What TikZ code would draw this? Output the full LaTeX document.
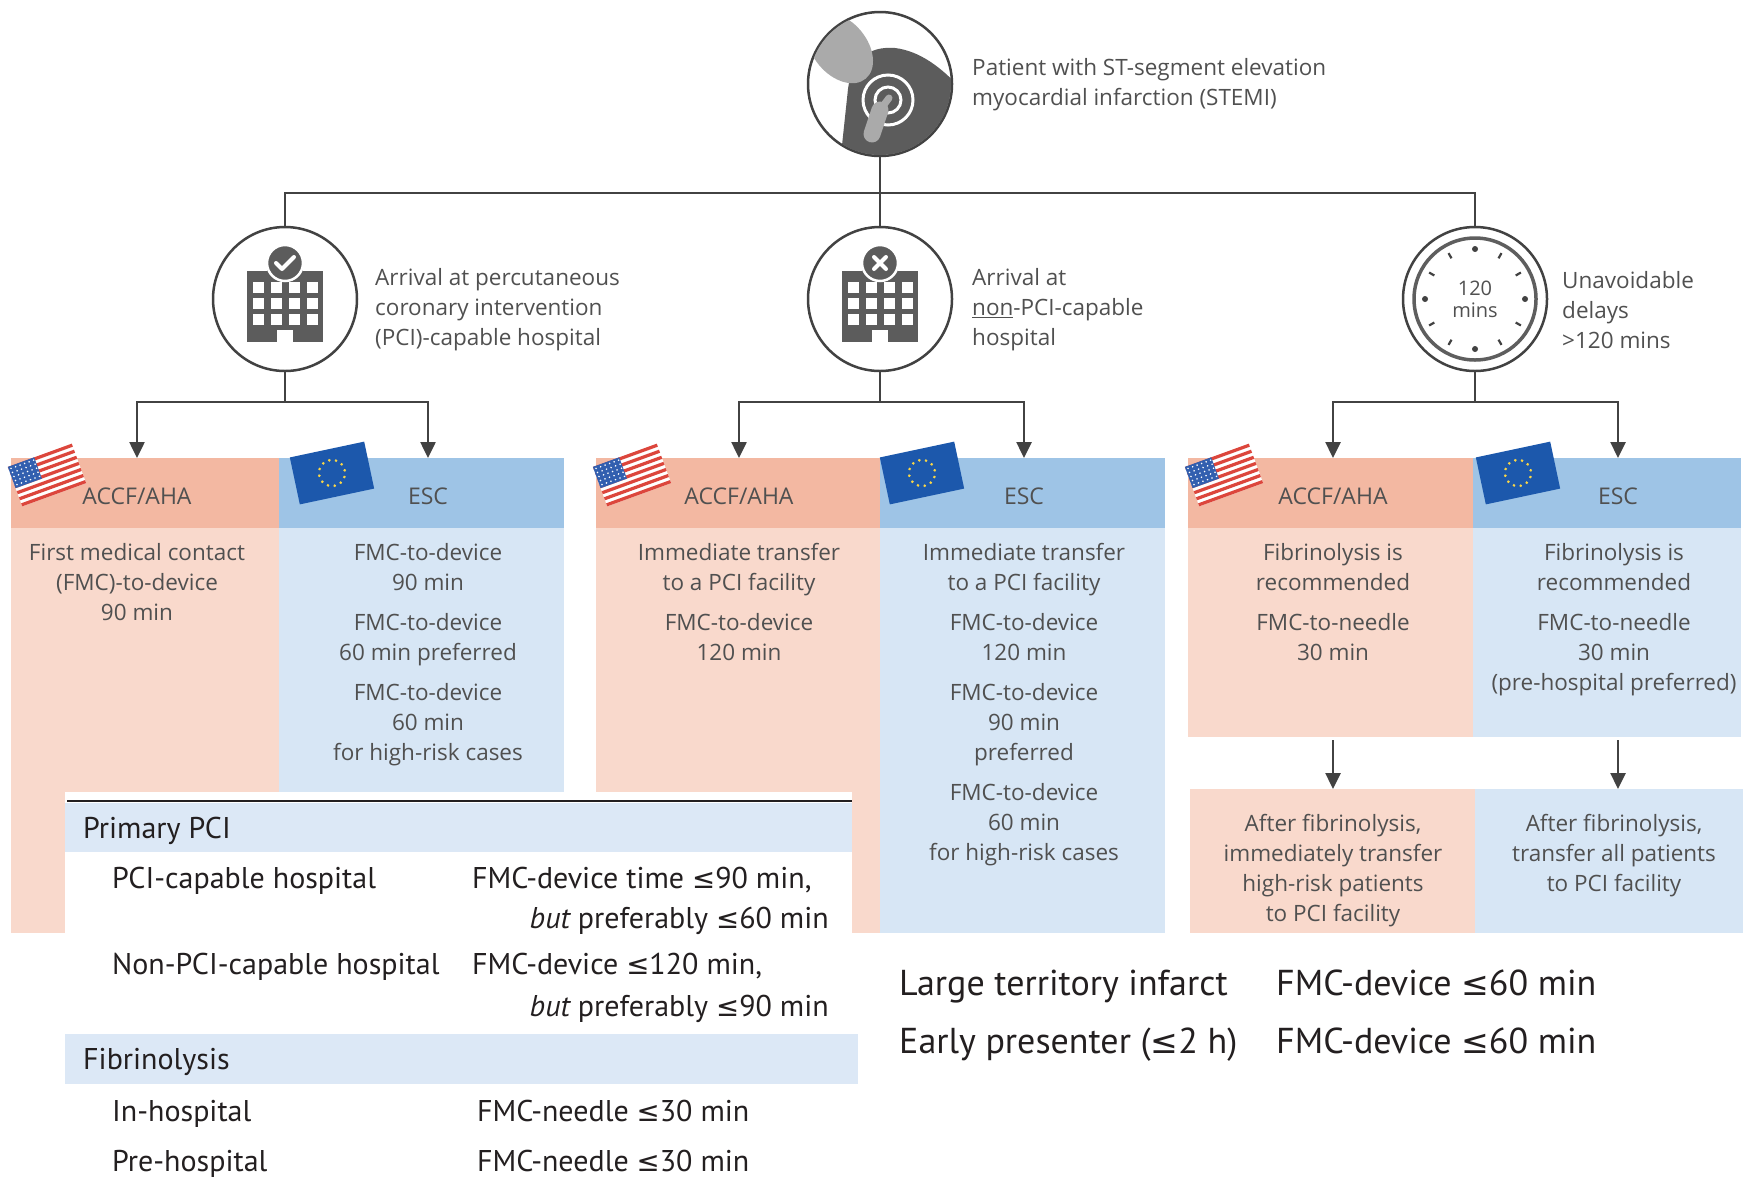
\documentclass[tikz,border=0pt]{standalone}
\usepackage{fontspec}
\setmainfont{Open Sans}
\newfontfamily\tabfont{PT Sans}
\newfontfamily\symfont[Scale=0.92]{DejaVu Sans}
\newcommand\lesym{{\symfont ≤}}
\usetikzlibrary{arrows.meta}

\definecolor{accHead}{RGB}{243,184,162}
\definecolor{accBody}{RGB}{249,217,204}
\definecolor{escHead}{RGB}{158,196,230}
\definecolor{escBody}{RGB}{215,230,245}
\definecolor{bandBlue}{RGB}{220,232,246}
\definecolor{lineGrey}{RGB}{66,66,66}
\definecolor{iconGrey}{RGB}{92,92,92}
\definecolor{iconLight}{RGB}{170,170,170}
\definecolor{txtGrey}{RGB}{80,80,80}
\definecolor{tabBlack}{RGB}{35,31,32}
\definecolor{flagRed}{RGB}{220,70,60}
\definecolor{flagBlue}{RGB}{50,95,175}
\definecolor{euBlue}{RGB}{28,88,172}
\definecolor{euGold}{RGB}{250,214,70}

\tikzset{
  ring/.style={circle, draw=lineGrey, line width=2.5pt, fill=white, minimum size=144pt, inner sep=0pt},
  captext/.style={anchor=west, align=left, inner sep=0pt, text=txtGrey, font=\fontsize{22.5}{30}\selectfont},
  hdrbox/.style={inner sep=0pt, anchor=north west, minimum height=70pt},
  bodybox/.style={inner sep=0pt, anchor=north west},
  hdrtext/.style={inner sep=0pt, text=txtGrey, font=\fontsize{23}{26}\selectfont},
  boxtext/.style={anchor=north, align=center, inner sep=0pt, text=txtGrey, font=\fontsize{22.5}{30}\selectfont},
  clocktext/.style={align=center, inner sep=0pt, text=txtGrey, font=\fontsize{20}{22}\selectfont},
  link/.style={draw=lineGrey, line width=2.5pt},
  arr/.style={link, -{Triangle[width=15pt,length=16pt]}},
  tabtext/.style={inner sep=0pt, text=tabBlack, font=\tabfont\fontsize{30}{34}\selectfont},
  bigtext/.style={inner sep=0pt, text=tabBlack, font=\tabfont\fontsize{36}{40}\selectfont},
  % small icons
  pics/usflag/.style={code={
    \fill[white] (-34,-21) rectangle (34,21);
    \foreach \k in {0,...,6}
      \fill[flagRed] (-34,{-21+2*\k*42/13}) rectangle (34,{-21+(2*\k+1)*42/13});
    \fill[flagBlue] (-34,-21) rectangle (-6,{-21+7*42/13});
    \foreach \i in {0,...,5}
      \foreach \j in {0,...,4}
        \fill[white] ({-31.5+\i*4.8},{-18.5+\j*4.3}) circle (0.9);
  }},
  pics/euflag/.style={code={
    \fill[euBlue] (-38,-24) rectangle (38,24);
    \foreach \a in {0,30,...,330}
      \fill[euGold] (\a:13) circle (1.5);
  }},
  pics/patient/.style={code={
    \begin{scope}
      \clip (0,0) circle (71);
      \fill[iconGrey] (-40,80) -- (-32,5) .. controls (-28,-26) and (-10,-38) .. (15,-36)
        .. controls (40,-33) and (62,-16) .. (80,4) -- (80,80) -- cycle;
      \fill[iconLight, rotate around={-50:(-40,-36)}] (-40,-36) ellipse (40 and 27);
      \draw[white, line width=3pt] (8,16) circle (25) (8,16) circle (13);
      \draw[iconLight, line width=17pt, line cap=round] (-8,50) -- (0,26);
      \draw[iconLight, line width=7pt, line cap=round] (0,26) -- (9,14);
    \end{scope}
  }},
  pics/hospital/.style={code={
    \fill[iconGrey] (-38,-28) rectangle (38,43);
    \fill[iconGrey] (-18,-38) rectangle (18,-28);
    \foreach \cx in {-27,-9,9,27}
      \foreach \cy in {-12,4,20}
        \fill[white] ({\cx-5.5},{\cy-5.5}) rectangle ({\cx+5.5},{\cy+5.5});
    \fill[white] (-8,31) rectangle (8,44);
    \fill[iconGrey, draw=white, line width=2.5pt] (0,-36) circle (18);
    \ifnum#1=1
      \draw[white, line width=4pt, line cap=round, line join=round] (-9,-36) -- (-3,-30) -- (9,-42);
    \else
      \draw[white, line width=4pt, line cap=round] (-6,-42) -- (6,-30) (-6,-30) -- (6,-42);
    \fi
  }},
  pics/clockface/.style={code={
    \draw[lineGrey!85, line width=3.5pt] (0,0) circle (61);
    \foreach \a in {0,90,180,270}
      \fill[lineGrey] (\a:50) circle (3);
    \foreach \a in {30,60,120,150,210,240,300,330}
      \draw[lineGrey, line width=2.2pt] (\a:47) -- (\a:53);
  }},
}

\begin{document}
\begin{tikzpicture}[x=1pt, y=-1pt]
\useasboundingbox (0,0) rectangle (1752,1179);

% decision tree heads
\node[ring] (stemi) at (880,84) {};
\pic at (stemi) {patient};
\node[captext] (stemitxt) at (972,85) {Patient with ST-segment elevation\\myocardial infarction (STEMI)};

\node[ring] (pci) at (285,299) {};
\pic at (pci) {hospital=1};
\node[captext] (pcitxt) at (375,310) {Arrival at percutaneous\\coronary intervention\\(PCI)-capable hospital};

\node[ring] (nonpci) at (880,299) {};
\pic at (nonpci) {hospital=0};
\node[captext] (nonpcitxt) at (972,310) {Arrival at\\\underline{non}-PCI-capable\\hospital};

\node[ring] (delay) at (1475,299) {};
\pic at (delay) {clockface};
\node[clocktext] (clocklbl) at (1475,299) {120\\mins};
\node[captext] (delaytxt) at (1562,310) {Unavoidable\\delays\\>120 mins};

\coordinate (bus) at (880,193);
\draw[link] (stemi) -- (bus);
\draw[link] (pci.north) |- (bus) -| (delay.north);
\draw[link] (bus) -- (nonpci);

% colour columns
\node[hdrbox, fill=accHead, minimum width=268pt] (h1a) at (11,458) {};
\node[hdrbox, fill=escHead, minimum width=285pt] (h1b) at (279,458) {};
\node[hdrbox, fill=accHead, minimum width=284pt] (h2a) at (596,458) {};
\node[hdrbox, fill=escHead, minimum width=285pt] (h2b) at (880,458) {};
\node[hdrbox, fill=accHead, minimum width=285pt] (h3a) at (1188,458) {};
\node[hdrbox, fill=escHead, minimum width=268pt] (h3b) at (1473,458) {};

\node[bodybox, fill=accBody, minimum width=268pt, minimum height=405pt] (b1a) at (11,528) {};
\node[bodybox, fill=escBody, minimum width=285pt, minimum height=405pt] (b1b) at (279,528) {};
\node[bodybox, fill=accBody, minimum width=284pt, minimum height=405pt] (b2a) at (596,528) {};
\node[bodybox, fill=escBody, minimum width=285pt, minimum height=405pt] (b2b) at (880,528) {};
\node[bodybox, fill=accBody, minimum width=285pt, minimum height=209pt] (b3a) at (1188,528) {};
\node[bodybox, fill=escBody, minimum width=268pt, minimum height=209pt] (b3b) at (1473,528) {};
\node[bodybox, fill=accBody, minimum width=285pt, minimum height=144pt] (l3a) at (1190,789) {};
\node[bodybox, fill=escBody, minimum width=268pt, minimum height=144pt] (l3b) at (1475,789) {};

\foreach \g/\x in {1/11, 2/596, 3/1188}{
  \pic[rotate=20] at ({\x+36},475) {usflag};
}
\pic[rotate=12] at (332,473) {euflag};
\pic[rotate=12] at (922,473) {euflag};
\pic[rotate=12] at (1518,473) {euflag};

\node[hdrtext] (t1a) at (137,496) {ACCF/AHA};
\node[hdrtext] (t1b) at (428,496) {ESC};
\node[hdrtext] (t2a) at (739,496) {ACCF/AHA};
\node[hdrtext] (t2b) at (1024,496) {ESC};
\node[hdrtext] (t3a) at (1333,496) {ACCF/AHA};
\node[hdrtext] (t3b) at (1618,496) {ESC};

% branches
\coordinate (s1) at (285,402);
\coordinate (s2) at (880,402);
\coordinate (s3) at (1475,402);
\draw[link] (pci) -- (s1);
\draw[link] (nonpci) -- (s2);
\draw[link] (delay) -- (s3);
\draw[arr] (s1) -| (h1a.north -| t1a);
\draw[arr] (s1) -| (h1b.north -| t1b);
\draw[arr] (s2) -| (h2a.north -| t2a);
\draw[arr] (s2) -| (h2b.north -| t2b);
\draw[arr] (s3) -| (h3a.north -| t3a);
\draw[arr] (s3) -| (h3b.north -| t3b);
\draw[arr, shorten <=3pt] (b3a.south -| t3a) -- (l3a.north -| t3a);
\draw[arr, shorten <=3pt] (b3b.south -| t3b) -- (l3b.north -| t3b);

\node[boxtext] (bt1a) at (137,543) {First medical contact\\(FMC)-to-device\\90 min};
\node[boxtext] (bt1b) at (428,543) {FMC-to-device\\90 min\\[10pt]FMC-to-device\\60 min preferred\\[10pt]FMC-to-device\\60 min\\for high-risk cases};
\node[boxtext] (bt2a) at (739,543) {Immediate transfer\\to a PCI facility\\[10pt]FMC-to-device\\120 min};
\node[boxtext] (bt2b) at (1024,543) {Immediate transfer\\to a PCI facility\\[10pt]FMC-to-device\\120 min\\[10pt]FMC-to-device\\90 min\\preferred\\[10pt]FMC-to-device\\60 min\\for high-risk cases};
\node[boxtext] (bt3a) at (1333,543) {Fibrinolysis is\\recommended\\[10pt]FMC-to-needle\\30 min};
\node[boxtext] (bt3b) at (1614,543) {Fibrinolysis is\\recommended\\[10pt]FMC-to-needle\\30 min\\(pre-hospital preferred)};
\node[boxtext] (lt3a) at (1333,814) {After fibrinolysis,\\immediately transfer\\high-risk patients\\to PCI facility};
\node[boxtext] (lt3b) at (1614,814) {After fibrinolysis,\\transfer all patients\\to PCI facility};

% summary table
\node[bodybox, fill=white, minimum width=787pt, minimum height=387pt] (tab) at (65,792) {};
\fill[bandBlue] (65,803) rectangle (852,852);
\fill[bandBlue] (65,1034) rectangle (858,1084);
\draw[tabBlack, line width=2.5pt] (67,801) -- (852,801);

\node[tabtext, anchor=mid west] (pp) at (83,836) {Primary PCI};
\node[tabtext, anchor=mid west] (pcicap) at (112,886) {PCI-capable hospital};
\node[tabtext, anchor=mid west] (pcicapA) at (472,886) {FMC-device time \lesym90 min,};
\node[tabtext, anchor=mid east] (pcicapB) at (829,926) {\itshape but\upshape{} preferably \lesym60 min};
\node[tabtext, anchor=mid west] (noncap) at (112,972) {Non-PCI-capable hospital};
\node[tabtext, anchor=mid west] (noncapA) at (472,972) {FMC-device \lesym120 min,};
\node[tabtext, anchor=mid east] (noncapB) at (829,1014) {\itshape but\upshape{} preferably \lesym90 min};
\node[tabtext, anchor=mid west] (fib) at (83,1067) {Fibrinolysis};
\node[tabtext, anchor=mid west] (inhosp) at (112,1119) {In-hospital};
\node[tabtext, anchor=mid west] (inhospA) at (477,1119) {FMC-needle \lesym30 min};
\node[tabtext, anchor=mid west] (prehosp) at (112,1169) {Pre-hospital};
\node[tabtext, anchor=mid west] (prehospA) at (477,1169) {FMC-needle \lesym30 min};

\node[bigtext, anchor=mid west] (large) at (899,993) {Large territory infarct};
\node[bigtext, anchor=mid west] (largeA) at (1276,993) {FMC-device \lesym60 min};
\node[bigtext, anchor=mid west] (early) at (899,1051) {Early presenter (\lesym2 h)};
\node[bigtext, anchor=mid west] (earlyA) at (1276,1051) {FMC-device \lesym60 min};
\end{tikzpicture}
\end{document}
